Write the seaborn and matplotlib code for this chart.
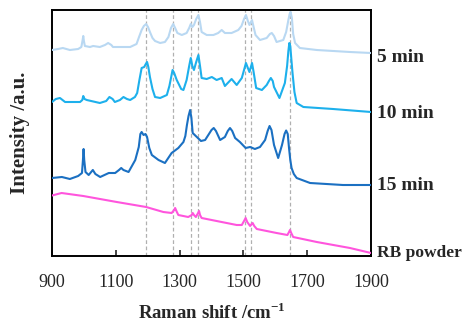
import matplotlib
matplotlib.use("Agg")
import matplotlib.pyplot as plt
import matplotlib.transforms as mtransforms
import seaborn as sns
import pandas as pd

# ---- data ----
wn_5 = [900, 919, 934, 956, 982, 992, 996, 998, 1000, 1003, 1019, 1029, 1050, 1066, 1076, 1086,
        1091, 1145, 1165, 1174, 1181, 1188, 1195, 1201, 1207, 1215, 1223, 1239, 1254, 1265, 1273,
        1280, 1286, 1293, 1307, 1322, 1330, 1335, 1340, 1345, 1352, 1359, 1364, 1369, 1385,
        1406, 1421, 1432, 1442, 1463, 1484, 1494, 1502, 1508, 1514, 1519, 1527, 1532, 1538,
        1552, 1573, 1583, 1589, 1596, 1604, 1625, 1634, 1641, 1645, 1648, 1652, 1656, 1662,
        1677, 1730, 1834, 1900]
int_5 = [206, 207, 208, 206, 207, 209, 216, 220, 215, 210, 209, 210, 209, 211, 213, 211,
         209, 209, 212, 220, 226, 230, 232, 229, 224, 218, 215, 213, 214, 219, 228,
         232, 228, 223, 221, 223, 228, 232, 229, 231, 237, 241, 234, 224, 221,
         221, 223, 226, 223, 223, 226, 230, 237, 241, 235, 231, 236, 229, 221,
         216, 218, 222, 223, 220, 214, 216, 224, 236, 242, 244, 238, 222, 213,
         208, 206, 204, 203]

wn_10 = [900, 912, 925, 941, 988, 995, 998, 1002, 1009, 1050, 1070, 1080, 1090, 1097, 1113, 1124,
         1135, 1145, 1160, 1167, 1174, 1181, 1189, 1194, 1198, 1202, 1207, 1215, 1223, 1239,
         1260, 1268, 1273, 1278, 1283, 1291, 1305, 1312, 1322, 1330, 1335, 1340, 1345, 1352,
         1359, 1364, 1369, 1385, 1401, 1416, 1432, 1442, 1463, 1479, 1495, 1502, 1508, 1514,
         1519, 1527, 1532, 1540, 1558, 1573, 1580, 1586, 1592, 1596, 1613, 1630, 1637, 1641,
         1644, 1647, 1650, 1654, 1660, 1667, 1688, 1781, 1900]
int_10 = [154, 157, 158, 154, 154, 156, 160, 157, 156, 153, 155, 159, 157, 154, 156, 159,
          157, 156, 159, 163, 176, 188, 189, 192, 194, 189, 179, 167, 159, 158,
          161, 170, 178, 186, 183, 176, 167, 166, 176, 190, 198, 190, 186, 194,
          201, 190, 178, 177, 179, 176, 178, 170, 177, 171, 178, 186, 193, 188,
          184, 193, 184, 168, 166, 171, 175, 178, 175, 169, 158, 173, 190, 205,
          213, 210, 198, 183, 164, 153, 149, 147, 144]

wn_15 = [900, 931, 956, 982, 994, 997, 999, 1001, 1005, 1015, 1028, 1036, 1051, 1078, 1098,
         1110, 1117, 1124, 1140, 1161, 1172, 1177, 1181, 1187, 1193, 1198, 1205, 1213, 1234,
         1254, 1275, 1296, 1312, 1318, 1323, 1328, 1333, 1337, 1341, 1354, 1367, 1380, 1390,
         1400, 1407, 1414, 1427, 1442, 1451, 1458, 1465, 1474, 1489, 1507, 1521, 1536, 1552,
         1568, 1576, 1582, 1588, 1596, 1609, 1621, 1629, 1634, 1639, 1643, 1647, 1651, 1658,
         1667, 1709, 1812, 1900]
int_15 = [78, 79, 77, 80, 83, 96, 107, 96, 84, 81, 86, 82, 79, 83, 83,
          86, 88, 86, 84, 96, 109, 122, 124, 121, 122, 119, 108, 101, 96,
          93, 103, 108, 114, 120, 131, 140, 146, 138, 123, 119, 115, 116, 121,
          126, 128, 125, 116, 119, 125, 128, 125, 118, 114, 108, 109, 107, 109,
          116, 125, 130, 126, 111, 98, 111, 122, 125.5, 122, 108, 96, 88, 82,
          78, 73, 71, 71]

wn_rb = [900, 930, 998, 1103, 1195, 1249, 1275, 1283, 1286, 1290, 1296, 1327, 1338, 1341,
         1345, 1351, 1358, 1361, 1364, 1369, 1416, 1479, 1495, 1502, 1507, 1512, 1521, 1526,
         1529, 1534, 1542, 1604, 1638, 1643, 1646, 1650, 1656, 1730, 1834, 1900]
int_rb = [60.5, 63, 60, 54, 49, 44, 43, 46, 48, 45, 41, 39, 41, 43,
          41, 39, 43, 45, 41, 38, 35, 31, 31, 35, 38, 34, 30, 32,
          33, 30, 27, 23, 21, 24, 26, 23, 19, 14, 8, 3]

series_names = ["5 min", "10 min", "15 min", "RB powder"]
series_colors = ["#b9d8f2", "#1db0ec", "#1b70c2", "#ff55dd"]
label_y = [199, 143, 71, 3]

peak_lines = [1195, 1280, 1336, 1358, 1505, 1525, 1647]
x_ticks = [900, 1100, 1300, 1500, 1700, 1900]

frames = []
for name, wn, inten in zip(series_names, [wn_5, wn_10, wn_15, wn_rb],
                           [int_5, int_10, int_15, int_rb]):
    frames.append(pd.DataFrame({"wn": wn, "I": inten, "series": name}))
df = pd.concat(frames, ignore_index=True)

# ---- plotting ----
sns.set_style("ticks")
plt.rcParams["font.family"] = ["Liberation Serif", "DejaVu Serif"]
plt.rcParams["mathtext.fontset"] = "custom"
plt.rcParams["mathtext.rm"] = "Liberation Serif"
plt.rcParams["mathtext.bf"] = "Liberation Serif:bold"

fig = plt.figure(figsize=(4.65, 3.25), dpi=100)
ax = fig.add_axes([52 / 465, 69 / 325, 319 / 465, 246 / 325])

for xv in peak_lines:
    ax.axvline(xv, color="#b0b0b0", lw=0.9, ls=(0, (3, 2)), zorder=1)

sns.lineplot(data=df, x="wn", y="I", hue="series", hue_order=series_names,
             palette=series_colors, estimator=None, sort=False, lw=1.5,
             legend=False, ax=ax, zorder=3)

ax.set_xlim(900, 1900)
ax.set_ylim(0, 246)
ax.set_xticks(x_ticks)
ax.set_xticklabels([str(t) for t in x_ticks], fontsize=13)
ax.set_yticks([])
ax.tick_params(axis="x", direction="in", length=4, width=1.2, pad=13)
for sp in ax.spines.values():
    sp.set_linewidth(1.4)
    sp.set_color("black")

ax.set_xlabel(r"Raman shift /cm$^{\mathbf{-1}}$", fontsize=13.5, fontweight="bold", labelpad=8)
ax.set_ylabel("Intensity /a.u.", fontsize=15, fontweight="bold", labelpad=16)

trans = mtransforms.blended_transform_factory(ax.transAxes, ax.transData)
for name, yv in zip(series_names, label_y):
    fs = 12.5 if name == "RB powder" else 14
    ax.text(1.02, yv, name, transform=trans, ha="left", va="center",
            fontsize=fs, fontweight="bold", clip_on=False)

fig.savefig("out.png", dpi=100)
